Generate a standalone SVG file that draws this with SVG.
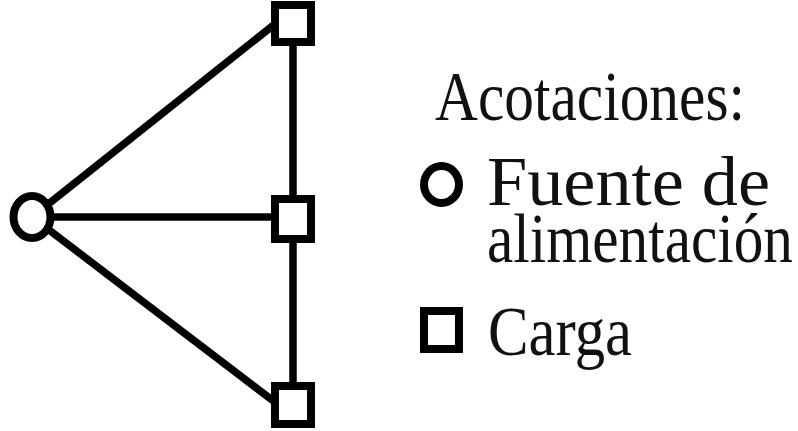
<svg xmlns="http://www.w3.org/2000/svg" width="798" height="431" viewBox="0 0 798 431">
<style>
.ln{stroke:#000;stroke-width:7.5;fill:none;stroke-linecap:butt}
.nd{stroke:#000;stroke-width:8;fill:#fff}
.tx{font-family:"Liberation Serif","DejaVu Serif",serif;font-size:58px;fill:#111}
</style>
<rect width="798" height="431" fill="#fff"/>
<g id="connectors">
<line class="ln" x1="32" y1="217" x2="280" y2="20"/>
<line class="ln" x1="32" y1="217" x2="280" y2="217"/>
<line class="ln" x1="32" y1="217" x2="280" y2="406"/>
<line class="ln" x1="293" y1="40" x2="293" y2="390"/>
</g>
<g id="source"><ellipse class="nd" cx="32" cy="217" rx="18.5" ry="21"/></g>
<g id="load1"><rect class="nd" x="275" y="5" width="36" height="37"/></g>
<g id="load2"><rect class="nd" x="275" y="199" width="36" height="40"/></g>
<g id="load3"><rect class="nd" x="275" y="386" width="36" height="38"/></g>
<g id="legend">
<text class="tx" transform="translate(435,120) scale(1,1.2)" textLength="310" lengthAdjust="spacingAndGlyphs">Acotaciones:</text>
<ellipse class="nd" cx="441.5" cy="184.5" rx="17.5" ry="18.5"/>
<text class="tx" transform="translate(487,205) scale(1,1.2)"><tspan x="0" y="0" textLength="283" lengthAdjust="spacingAndGlyphs">Fuente de</tspan><tspan x="0" y="47.5" textLength="306" lengthAdjust="spacingAndGlyphs">alimentación</tspan></text>
<rect class="nd" x="424" y="311" width="35" height="38"/>
<text class="tx" transform="translate(488,355) scale(1,1.2)" textLength="144" lengthAdjust="spacingAndGlyphs">Carga</text>
</g>
</svg>
